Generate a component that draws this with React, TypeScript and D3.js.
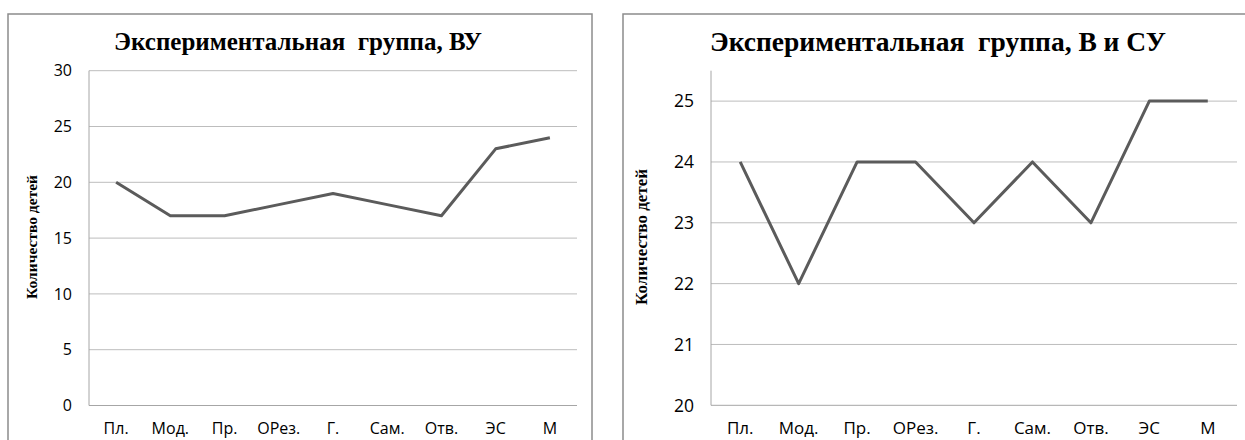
import React from "react";
import * as d3 from "d3";

const categories = ["Пл.", "Мод.", "Пр.", "ОРез.", "Г.", "Сам.", "Отв.", "ЭС", "М"];
const valuesVU = [20, 17, 17, 18, 19, 18, 17, 23, 24];
const valuesVSU = [24, 22, 24, 24, 23, 24, 23, 25, 25];
const ticksVU = [0, 5, 10, 15, 20, 25, 30];
const ticksVSU = [20, 21, 22, 23, 24, 25];
const titleVU = "Экспериментальная\u00a0 группа, ВУ";
const titleVSU = "Экспериментальная\u00a0 группа, В и СУ";
const yLabel = "Количество детей";

type PanelProps = {
  box: [number, number, number, number];
  plot: [number, number, number, number];
  domain: [number, number];
  ticks: number[];
  values: number[];
  title: string;
  titleX: number;
  titleY: number;
  titleSize: number;
  tickSize: number;
  catSize: number;
  labelSize: number;
  yLabelX: number;
  axisToTop: boolean;
};

function Panel(p: PanelProps) {
  const { box, plot, domain, ticks, values, title, titleX, titleY, titleSize, tickSize, catSize, labelSize, yLabelX, axisToTop } = p;
  const [bx, by, bw, bh] = box;
  const [px0, py0, px1, py1] = plot;
  const x = d3.scaleBand<string>().domain(categories).range([px0, px1]);
  const y = d3.scaleLinear().domain(domain).range([py1, py0]);
  const line = d3
    .line<number>()
    .x((_, i) => (x(categories[i]) as number) + x.bandwidth() / 2)
    .y((d) => y(d));
  return (
    <g>
      <rect x={bx} y={by} width={bw} height={bh} fill="#fff" stroke="#8c8c8c" strokeWidth={1.5} />
      <text
        x={titleX}
        y={titleY}
        textAnchor="middle"
        fontFamily="'Liberation Serif', 'Times New Roman', serif"
        fontWeight="bold"
        fontSize={titleSize}
        fill="#000"
      >
        {title}
      </text>
      {ticks.map((t) => (
        <g key={t}>
          {t !== domain[0] && (
            <line x1={px0} x2={px1} y1={y(t)} y2={y(t)} stroke="#bdbdbd" strokeWidth={1} />
          )}
          <text
            x={px0 - 17}
            y={y(t)}
            dy="0.36em"
            textAnchor="end"
            fontFamily="'Open Sans', sans-serif"
            fontSize={tickSize}
            fill="#000"
          >
            {t}
          </text>
        </g>
      ))}
      <line x1={px0} x2={px1} y1={py1} y2={py1} stroke="#a6a6a6" strokeWidth={1} />
      <line x1={px0} x2={px0} y1={axisToTop ? py0 : y(ticks[ticks.length - 1])} y2={py1} stroke="#a6a6a6" strokeWidth={1} />
      {categories.map((c) => (
        <text
          key={c}
          x={(x(c) as number) + x.bandwidth() / 2}
          y={434}
          textAnchor="middle"
          fontFamily="'Open Sans', sans-serif"
          fontSize={catSize}
          fill="#000"
        >
          {c}
        </text>
      ))}
      <text
        transform={`translate(${yLabelX},237) rotate(-90)`}
        textAnchor="middle"
        dy="0.35em"
        fontFamily="'Liberation Serif', 'Times New Roman', serif"
        fontWeight="bold"
        fontSize={labelSize}
        fill="#000"
      >
        {yLabel}
      </text>
      <path d={line(values) || ""} fill="none" stroke="#5b5b5b" strokeWidth={3} strokeLinejoin="round" />
    </g>
  );
}

export default function App() {
  return (
    <svg
      width={1245}
      height={440}
      style={{ position: "absolute", left: 0, top: 0, display: "block" }}
    >
      <rect x={0} y={0} width={1245} height={440} fill="#fff" />
      <Panel
        box={[8, 14, 584, 440]}
        plot={[89, 70.7, 577, 405.5]}
        domain={[0, 30]}
        ticks={ticksVU}
        values={valuesVU}
        title={titleVU}
        titleX={298}
        titleY={50}
        titleSize={25}
        tickSize={16}
        catSize={16}
        labelSize={15.5}
        yLabelX={32}
        axisToTop={false}
      />
      <Panel
        box={[623, 14, 640, 440]}
        plot={[711, 70.7, 1237, 405.3]}
        domain={[20, 25.5]}
        ticks={ticksVSU}
        values={valuesVSU}
        title={titleVSU}
        titleX={938}
        titleY={51}
        titleSize={27.5}
        tickSize={17.5}
        catSize={17}
        labelSize={17}
        yLabelX={641}
        axisToTop={true}
      />
    </svg>
  );
}
